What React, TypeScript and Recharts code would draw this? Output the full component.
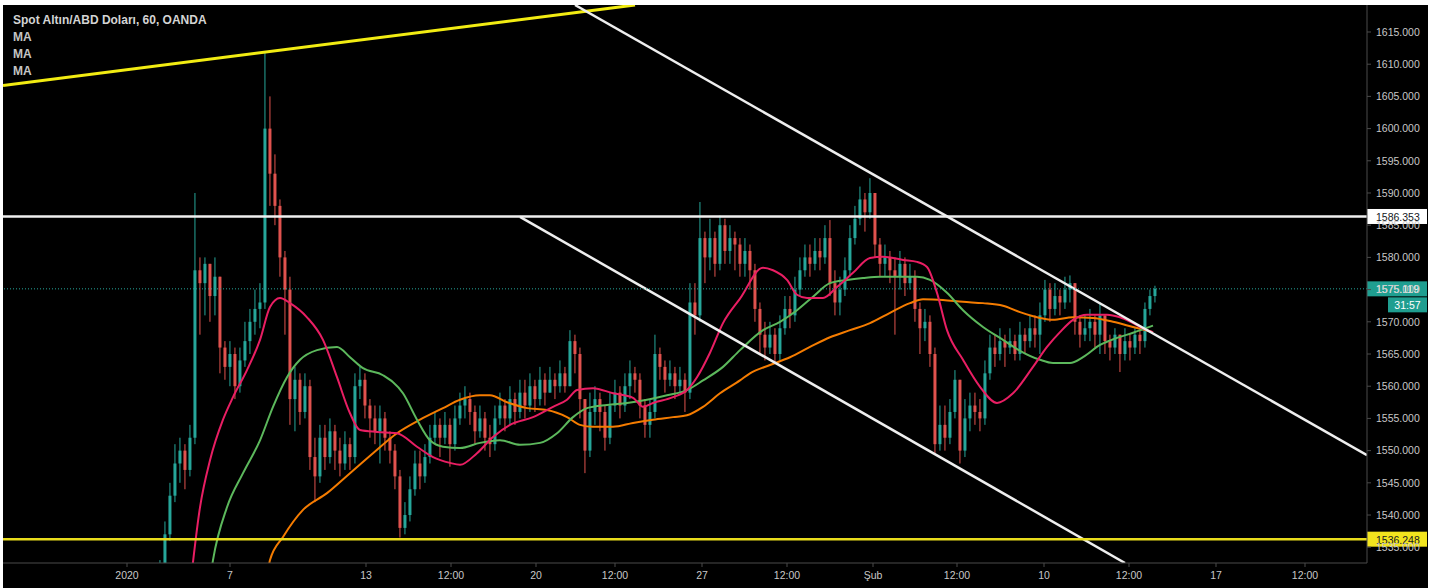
import React from 'react';
import { ComposedChart, Bar, Line, XAxis, YAxis, ReferenceLine } from 'recharts';

// hourly candles, one slot per 5px of the original screen; open = previous close
const firstOpen = 1529;
const closes = [
  1531, 1537, 1543, 1548, 1550, 1547, 1552, 1578, 1576, 1579,
  1574, 1577, 1566, 1563, 1565, 1560, 1564, 1567, 1570, 1572,
  1573, 1600, 1593, 1588, 1580, 1575, 1558, 1561, 1556, 1560,
  1549, 1546, 1552, 1549, 1553, 1550, 1548, 1551, 1549, 1560,
  1561, 1557, 1555, 1553, 1555, 1552, 1550, 1546, 1538, 1540,
  1544, 1548, 1546, 1549, 1552, 1554, 1552, 1554, 1551, 1555,
  1557, 1558, 1556, 1553, 1555, 1552, 1551, 1555, 1557, 1555,
  1558, 1556, 1559, 1557, 1560, 1558, 1561, 1559, 1561, 1560,
  1562, 1560, 1567, 1565, 1558, 1550, 1556, 1558, 1556, 1552,
  1557, 1559, 1557, 1560, 1562, 1561, 1557, 1554, 1556, 1565,
  1563, 1561, 1562, 1560, 1561, 1559, 1573, 1571, 1583, 1580,
  1583, 1579, 1585, 1581, 1583, 1582, 1579, 1581, 1578, 1572,
  1568, 1566, 1568, 1565, 1569, 1572, 1571, 1575, 1578, 1580,
  1579, 1581, 1580, 1583, 1576, 1573, 1575, 1578, 1583, 1586,
  1589, 1587, 1590, 1582, 1579, 1580, 1578, 1577, 1579, 1576,
  1577, 1572, 1569, 1570, 1565, 1551, 1554, 1552, 1556, 1561,
  1550, 1555, 1557, 1556, 1555, 1562, 1566, 1565, 1567, 1566,
  1567, 1565, 1568, 1567, 1569, 1568, 1571, 1575, 1572, 1574,
  1573, 1575, 1576, 1570, 1568, 1569, 1570, 1568, 1571, 1567,
  1566, 1568, 1565, 1567, 1566, 1568, 1567, 1572, 1574, 1575.119,
];
const highs = [
  1533, 1539, 1545, 1551, 1552, 1551, 1554, 1590, 1580, 1580,
  1579, 1580, 1577, 1567, 1567, 1566, 1566, 1570, 1572, 1575,
  1576, 1612, 1605, 1596, 1589, 1581, 1577, 1563, 1562, 1562,
  1561, 1552, 1554, 1554, 1555, 1554, 1552, 1553, 1552, 1562,
  1563, 1562, 1558, 1557, 1557, 1556, 1553, 1551, 1547, 1542,
  1546, 1550, 1550, 1551, 1554, 1556, 1555, 1556, 1555, 1557,
  1559, 1560, 1559, 1557, 1557, 1556, 1554, 1557, 1559, 1558,
  1560, 1559, 1561, 1561, 1562, 1561, 1563, 1562, 1563, 1562,
  1564, 1563, 1568.7, 1568, 1566, 1558, 1559, 1560, 1559, 1557,
  1559, 1561, 1560, 1562, 1564, 1563, 1562, 1558, 1558, 1568,
  1566, 1564, 1564, 1563, 1563, 1562, 1576, 1576, 1588.6, 1584,
  1586, 1584, 1586.5, 1586, 1585, 1584, 1583, 1583, 1582, 1579,
  1573, 1570, 1570, 1569, 1571, 1574, 1574, 1577, 1580, 1582,
  1582, 1583, 1583, 1585, 1585.8, 1578, 1577, 1580, 1585, 1588,
  1591, 1590, 1592.3, 1590, 1583, 1582, 1581, 1580, 1581, 1580,
  1579, 1578, 1573, 1572, 1571, 1566, 1557, 1557, 1558, 1562.5,
  1561, 1558, 1559, 1559, 1558, 1564, 1568, 1568, 1569, 1568,
  1569, 1568, 1570, 1569, 1571, 1571, 1573, 1576.5, 1576, 1576,
  1575, 1577, 1577.2, 1576, 1571, 1571, 1572, 1571, 1573, 1571,
  1568, 1569, 1568, 1569, 1568, 1569, 1569, 1573, 1575, 1575.6,
];
const lows = [
  1528, 1531, 1536, 1542, 1545, 1544, 1546, 1551, 1568, 1571,
  1570, 1571, 1562, 1561, 1560, 1558, 1559, 1563, 1565, 1568,
  1569, 1572, 1588, 1585, 1577, 1568, 1554, 1553, 1554, 1555,
  1547, 1542, 1545, 1547, 1548, 1547, 1546, 1547, 1547, 1548,
  1558, 1555, 1552, 1551, 1548, 1550, 1548, 1544, 1536.5, 1537,
  1539, 1543, 1544, 1545, 1548, 1551, 1549, 1551, 1547.5, 1550,
  1554, 1555, 1554, 1551, 1552, 1550, 1549, 1550, 1554, 1553,
  1554, 1554, 1555, 1555, 1556, 1556, 1557, 1557, 1559, 1558,
  1559, 1559, 1560, 1562, 1555, 1546.5, 1549, 1554, 1553, 1550,
  1551, 1556, 1555, 1556, 1558, 1559, 1555, 1552, 1552, 1555,
  1561, 1559, 1560, 1558, 1559, 1556, 1558, 1568, 1570, 1576,
  1578, 1577, 1578, 1579, 1579, 1578, 1577, 1577, 1575, 1570,
  1565, 1564, 1565, 1563.5, 1564, 1568, 1569, 1570, 1574, 1577,
  1577, 1578, 1578, 1579, 1574, 1571, 1571, 1574, 1577, 1582,
  1585, 1584, 1586, 1580, 1577, 1577, 1576, 1568, 1575, 1574,
  1575, 1570, 1565, 1567, 1563, 1549.6, 1550, 1550, 1551, 1555,
  1548, 1549, 1553, 1554, 1553, 1554, 1561, 1563, 1564, 1563,
  1565, 1564, 1564, 1565, 1566, 1566, 1565, 1570, 1570, 1571,
  1571, 1572, 1573, 1568, 1566, 1567, 1567, 1566, 1565, 1565,
  1564, 1565, 1562.2, 1564, 1564, 1565, 1565, 1566, 1571, 1573,
];

// moving averages: [slot, price]
const maFast: [number, number][] = [
  [6.2, 1530], [8, 1541.2], [10, 1548.5], [12.6, 1554.8], [14.6, 1558.3], [17.4, 1562.5],
  [20, 1567.2], [22, 1572.3], [24, 1573.7], [26, 1572.9], [29.4, 1570.7], [32.6, 1567.2],
  [35.4, 1561.4], [38, 1555.8], [40, 1553.2], [43.4, 1552.9], [47.4, 1552.7], [51.4, 1550.6],
  [54.6, 1549], [58, 1548.1], [60, 1547.8], [63.4, 1549.6], [66.6, 1552.1], [70, 1554],
  [74.6, 1555.2], [78.6, 1556.8], [81.4, 1557.9], [83.4, 1559.4], [86.6, 1559.7], [90.6, 1558.9],
  [94.6, 1558.2], [96.6, 1556.8], [98.6, 1557.4], [102.6, 1558.3], [105.4, 1559.4], [107.4, 1561.4],
  [110, 1565.2], [112.6, 1569.8], [116, 1573.6], [120.6, 1578.4], [122.6, 1578], [125.4, 1576.5],
  [127.4, 1574.2], [129.4, 1573.7], [132.6, 1573.7], [135.4, 1575.4], [138.6, 1577.6], [142, 1579.9],
  [144.6, 1580.1], [148.6, 1579.6], [151.4, 1579.3], [153.4, 1578.5], [155.4, 1574.5], [157.4, 1568.7],
  [160.6, 1564.1], [164, 1559.9], [167.4, 1557.4], [170.6, 1558.9], [174.6, 1563], [177.4, 1566.1],
  [180, 1568.4], [182.6, 1570.3], [185.4, 1571.1], [189.4, 1571.1], [192, 1570.7], [194.6, 1569.8],
  [197.4, 1568.7], [198.6, 1568.4],
];
const maMid: [number, number][] = [
  [10, 1530], [10.6, 1533], [13.4, 1541.2], [16.6, 1546.5], [20, 1551.6], [22.6, 1556.8],
  [25.4, 1561.4], [28, 1564.1], [31.4, 1565.6], [35.4, 1566.1], [38, 1564.5], [40.6, 1562.8],
  [44.6, 1561.7], [48.6, 1558.9], [51.4, 1554.8], [54, 1551.6], [56.6, 1550.6], [60, 1550.4],
  [64, 1551.2], [68, 1551.6], [72, 1550.9], [76, 1551.2], [79.4, 1552.7], [82.6, 1555.2],
  [85.4, 1556.6], [89.4, 1557.1], [93.4, 1557.4], [97.4, 1557.9], [101.4, 1558.6], [105.4, 1559.4],
  [108.6, 1560.9], [112.6, 1563], [116, 1565.6], [120.6, 1568.7], [124, 1570], [127.4, 1571.8],
  [130.6, 1573.9], [134, 1576], [137.4, 1576.5], [140.6, 1576.8], [144, 1577], [147.4, 1577],
  [151.4, 1577], [154, 1576.5], [157.4, 1574.5], [160.6, 1571.8], [164.6, 1569.2], [168.6, 1567.2],
  [172, 1565.5], [176, 1564.1], [178.6, 1563.6], [182, 1563.6], [184.6, 1564.5], [188, 1566.4],
  [191.4, 1567.5], [194.6, 1568.3], [198.6, 1569.4],
];
const maSlow: [number, number][] = [
  [21.4, 1530], [22, 1533], [24.6, 1536.6], [28.6, 1540.8], [33.4, 1543.4], [38, 1546.5],
  [42.6, 1549.6], [47.4, 1552.7], [52, 1554.8], [56.6, 1556.6], [60, 1557.9], [64, 1558.6],
  [66, 1558.6], [69.4, 1557.5], [73.4, 1556.6], [77.4, 1556.3], [81.4, 1555.2], [84, 1554],
  [86.6, 1553.7], [90.6, 1553.7], [94.6, 1554.3], [98.6, 1554.8], [102.6, 1555.2], [105.4, 1555.5],
  [108.6, 1556.8], [112, 1558.9], [116, 1560.9], [118, 1562], [122, 1563.3], [126, 1564.5],
  [130, 1566.1], [134, 1567.6], [138, 1568.7], [142, 1569.8], [146, 1571.4], [150, 1572.9],
  [152.6, 1573.5], [156.6, 1573.4], [160.6, 1573.1], [164.6, 1572.9], [168.6, 1572.5], [172, 1571.5],
  [176, 1570.6], [178.6, 1570.3], [182.6, 1570.7], [186.6, 1570.6], [190.6, 1570], [194.6, 1569.2],
  [198.6, 1568.4],
];

// drawn trend lines: [slot, price] end points
const yellowTrend: [number, number][] = [[-31.4, 1606.7], [95, 1619.19]];
const channelTop: [number, number][] = [[83, 1619.19], [241.4, 1549.3]];
const channelBottom: [number, number][] = [[72, 1586.3], [193, 1532.55]];

const resistance = 1586.353;
const support = 1536.248;
const lastPrice = 1575.119;
const countdown = '31:57';

const priceTicks = [1535, 1540, 1545, 1550, 1555, 1560, 1565, 1570, 1575, 1580, 1585, 1590, 1595, 1600, 1605, 1610, 1615];
const timeTicks = [-6.6, 14, 41.2, 58.2, 75.2, 91, 108.4, 125.4, 142.6, 159.4, 176.8, 193.8, 211.2, 229];
const timeLabels = ['2020', '7', '13', '12:00', '20', '12:00', '27', '12:00', 'Şub', '12:00', '10', '12:00', '17', '12:00'];

const UP = '#26a69a';
const DOWN = '#e0524e';
const FONT = "'Liberation Sans', Arial, sans-serif";

const candles = closes.map((c, i) => ({
  t: i,
  o: i === 0 ? firstOpen : closes[i - 1],
  h: highs[i],
  l: lows[i],
  c,
}));

const toPoints = (arr: [number, number][]) => arr.map(([t, v]) => ({ t, v }));
const toSegment = (arr: [number, number][]) => arr.map(([x, y]) => ({ x, y }));

const Candle = (props: any) => {
  const { x, y, width, height, payload } = props;
  if (x == null || y == null || !payload) return null;
  const { o, h, l, c } = payload;
  const color = c >= o ? UP : DOWN;
  const top = Math.min(y, y + height);
  const full = Math.abs(height);
  const k = h === l ? 0 : full / (h - l);
  const bodyTop = top + (h - Math.max(o, c)) * k;
  const bodyH = Math.max(1, Math.abs(o - c) * k);
  const cx = x + width / 2;
  return (
    <g>
      <line x1={cx} x2={cx} y1={top} y2={top + full} stroke={color} strokeWidth={1} />
      <rect x={cx - 1.5} y={bodyTop} width={3} height={bodyH} fill={color} />
    </g>
  );
};

const priceTag = (text: string, bg: string, fg: string, extra?: string) => (props: any) => {
  const vb = props.viewBox || {};
  const left = (vb.x || 0) + (vb.width || 0);
  const y = vb.y || 0;
  return (
    <g>
      <rect x={left} y={y - 7.5} width={60} height={15} fill={bg} />
      <text x={left + 9} y={y + 0.5} fill={fg} fontSize={10.5} fontFamily={FONT} dominantBaseline="central">
        {text}
      </text>
      {extra && (
        <g>
          <rect x={left + 21} y={y + 8.5} width={39} height={15} fill={bg} />
          <text x={left + 40.5} y={y + 16.5} fill={fg} fontSize={10.5} fontFamily={FONT} textAnchor="middle" dominantBaseline="central">
            {extra}
          </text>
        </g>
      )}
    </g>
  );
};

export default function App() {
  return (
    <div style={{ position: 'fixed', left: 0, top: 0, width: 1437, height: 588, background: '#fff', overflow: 'hidden' }}>
      <div style={{ position: 'absolute', left: 3, top: 5, width: 1425, height: 583, background: '#000' }}>
        <ComposedChart width={1425} height={583} data={candles} margin={{ top: 0, right: 0, bottom: 0, left: 0 }}>
          <XAxis
            dataKey="t"
            type="number"
            domain={[-31.4, 241.4]}
            allowDataOverflow
            ticks={timeTicks}
            interval={0}
            height={25}
            tickFormatter={(v: number) => timeLabels[timeTicks.indexOf(v)] ?? ''}
            stroke="#4a4a4a"
            tickSize={4}
            tickMargin={5}
            tick={{ fill: '#c8c8c8', fontSize: 10.5, fontFamily: FONT }}
          />
          <YAxis
            orientation="right"
            type="number"
            domain={[1532.55, 1619.19]}
            allowDataOverflow
            ticks={priceTicks}
            interval={0}
            width={61}
            tickFormatter={(v: number) => v.toFixed(3)}
            stroke="#4a4a4a"
            tickSize={4}
            tickMargin={5}
            tick={{ fill: '#c8c8c8', fontSize: 10.5, fontFamily: FONT, textAnchor: 'start' }}
          />
          <Bar dataKey={(d: any) => [d.l, d.h]} barSize={3} shape={Candle} isAnimationActive={false} />
          <Line data={toPoints(maSlow)} dataKey="v" type="monotone" stroke="#f57c00" strokeWidth={2} dot={false} activeDot={false} isAnimationActive={false} />
          <Line data={toPoints(maMid)} dataKey="v" type="monotone" stroke="#5cb85c" strokeWidth={2} dot={false} activeDot={false} isAnimationActive={false} />
          <Line data={toPoints(maFast)} dataKey="v" type="monotone" stroke="#e91e63" strokeWidth={2} dot={false} activeDot={false} isAnimationActive={false} />
          <ReferenceLine segment={toSegment(yellowTrend)} stroke="#f2ec12" strokeWidth={3} ifOverflow="hidden" />
          <ReferenceLine segment={toSegment(channelTop)} stroke="#eeeeee" strokeWidth={2.5} ifOverflow="hidden" />
          <ReferenceLine segment={toSegment(channelBottom)} stroke="#eeeeee" strokeWidth={2.5} ifOverflow="hidden" />
          <ReferenceLine y={lastPrice} stroke={UP} strokeWidth={1} strokeDasharray="1 2" label={priceTag(lastPrice.toFixed(3), '#1f9e90', '#ffffff', countdown)} />
          <ReferenceLine y={resistance} stroke="#f0f0f0" strokeWidth={2.5} label={priceTag(resistance.toFixed(3), '#ffffff', '#131722')} />
          <ReferenceLine y={support} stroke="#e8dc1c" strokeWidth={2.5} label={priceTag(support.toFixed(3), '#f2e41e', '#131722')} />
        </ComposedChart>
        <div style={{ position: 'absolute', left: 10, top: 7, fontFamily: FONT, fontSize: 12, lineHeight: '17px', color: '#c4c4c4', pointerEvents: 'none' }}>
          <div style={{ fontWeight: 700, color: '#d4d4d4' }}>Spot Altın/ABD Doları, 60, OANDA</div>
          <div style={{ fontWeight: 700 }}>MA</div>
          <div style={{ fontWeight: 700 }}>MA</div>
          <div style={{ fontWeight: 700 }}>MA</div>
        </div>
      </div>
    </div>
  );
}
